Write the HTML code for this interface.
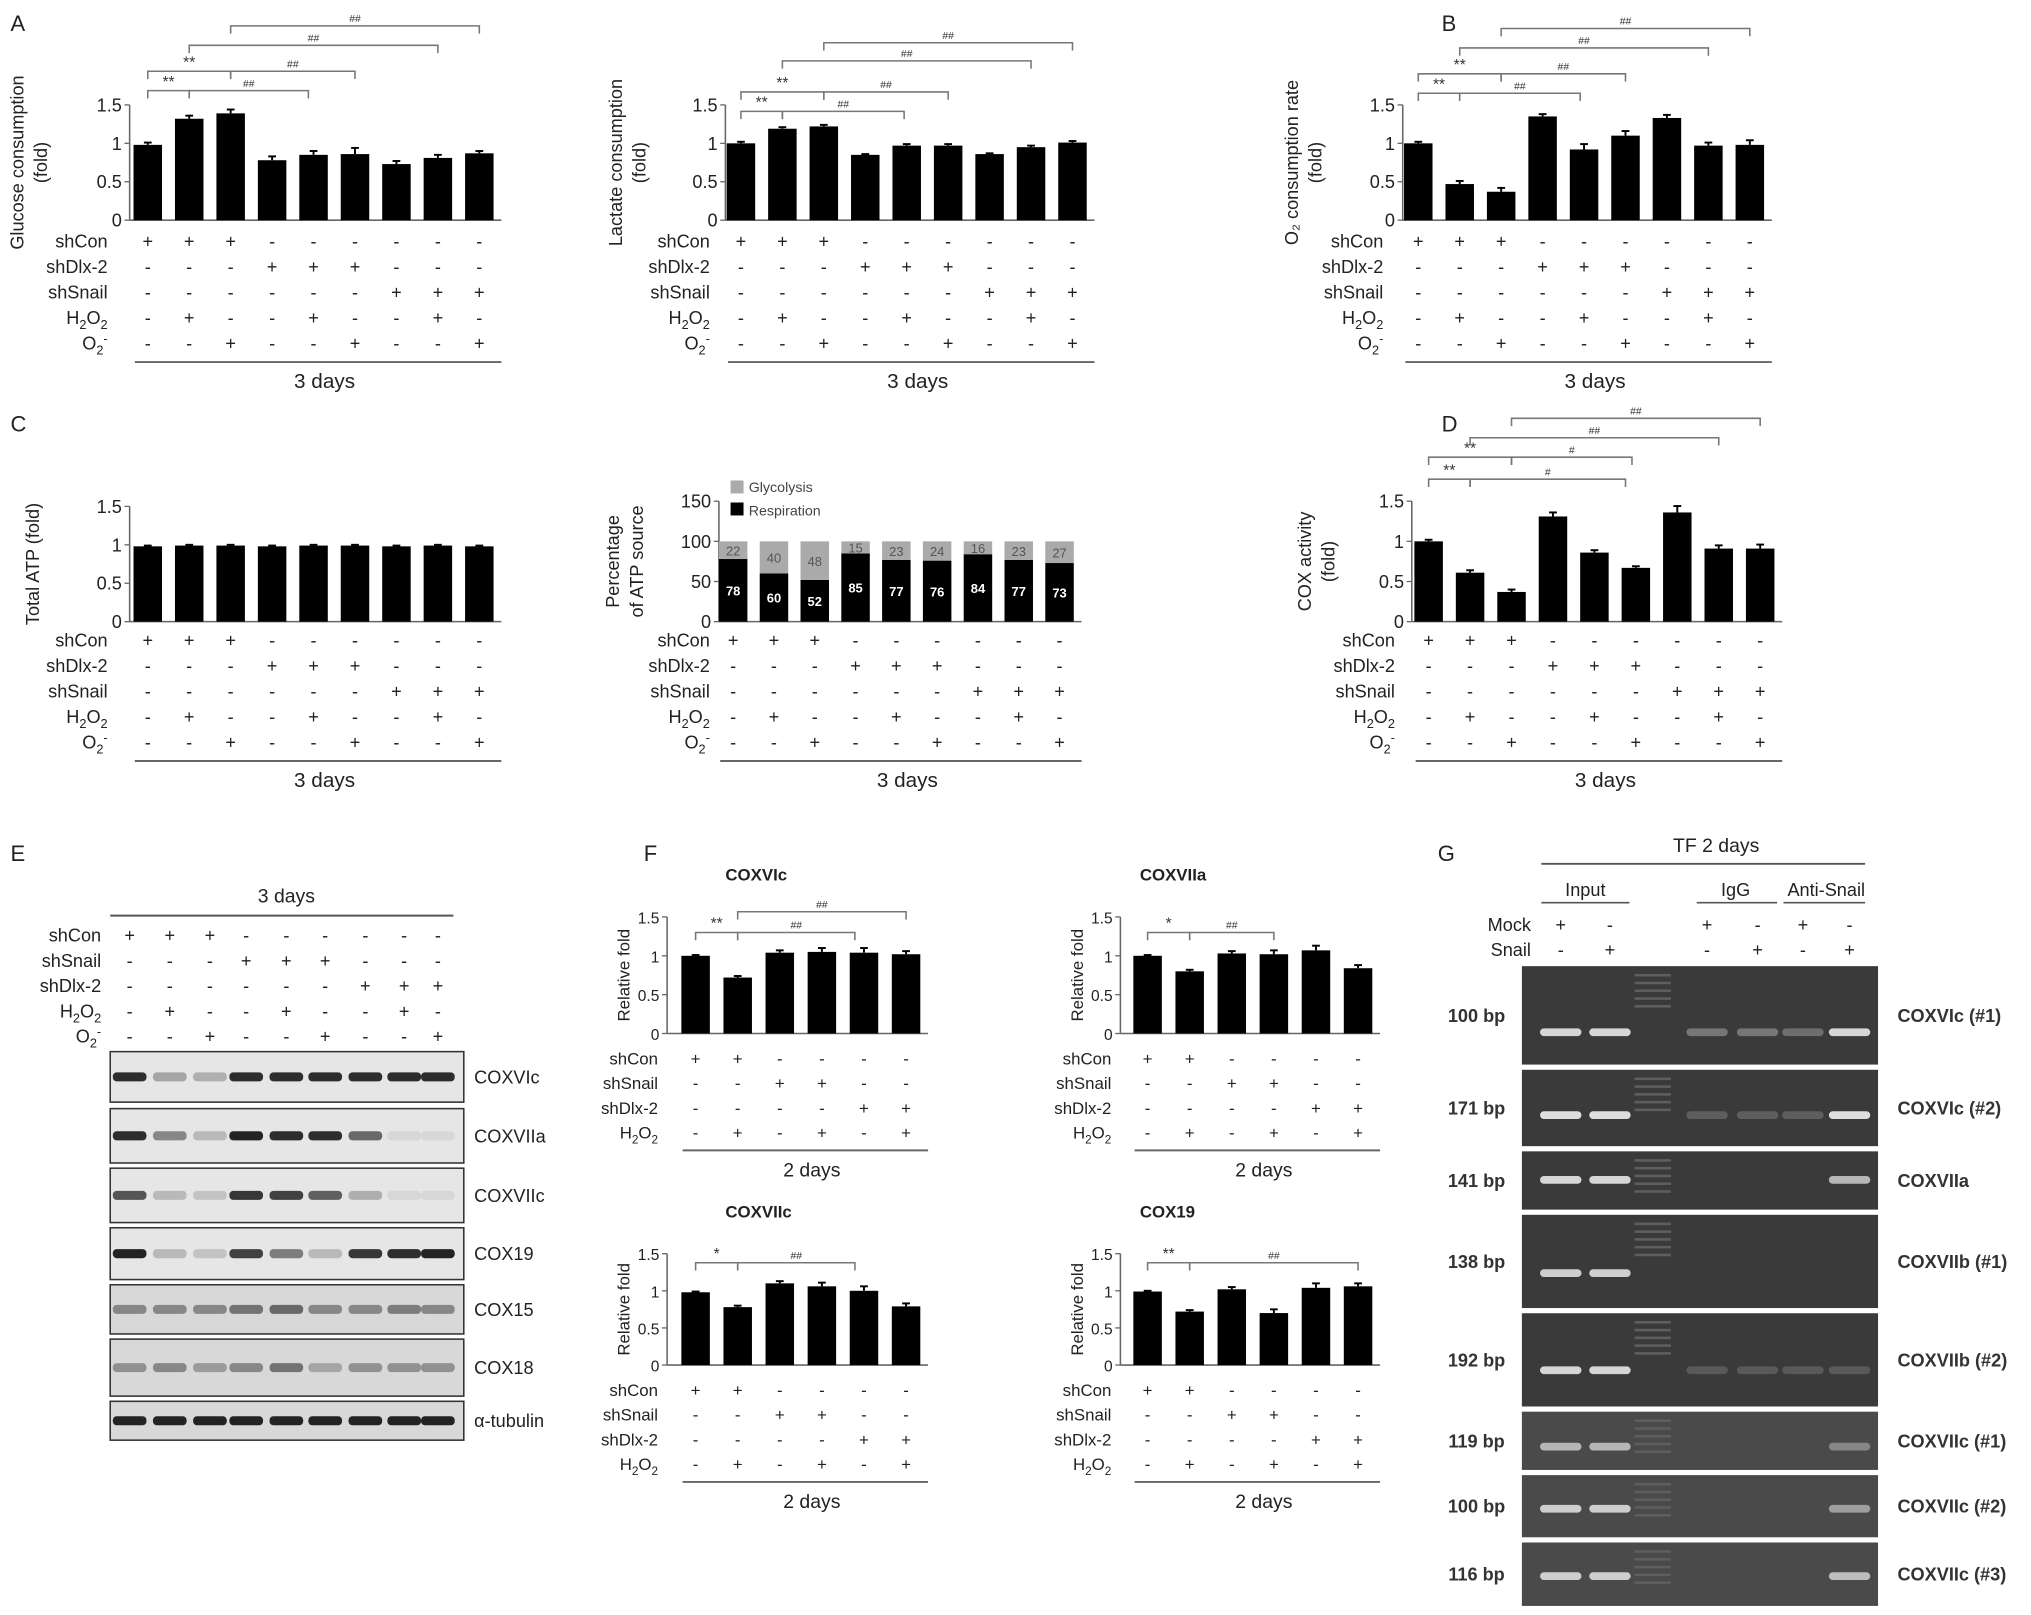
<!DOCTYPE html>
<html><head><meta charset="utf-8"><style>
html,body{margin:0;padding:0;background:#fff}
svg{display:block;font-family:"Liberation Sans",Arial,sans-serif}
</style></head><body>
<svg id="fig" xmlns="http://www.w3.org/2000/svg" width="2031" height="1615" viewBox="0 0 1568 1247">
<g id="root"></g>
</svg>
<script>
// ---------- data ----------
const glucoseValues=[0.98,1.32,1.39,0.78,0.85,0.86,0.73,0.81,0.87];
const glucoseErrors=[0.03,0.04,0.05,0.05,0.05,0.08,0.04,0.04,0.03];
const lactateValues=[1.0,1.19,1.22,0.85,0.97,0.97,0.86,0.95,1.01];
const lactateErrors=[0.02,0.02,0.02,0.01,0.02,0.02,0.01,0.02,0.02];
const o2Values=[1.0,0.47,0.37,1.35,0.92,1.10,1.33,0.97,0.98];
const o2Errors=[0.02,0.04,0.05,0.03,0.07,0.06,0.04,0.04,0.06];
const atpValues=[0.98,0.99,0.99,0.98,0.99,0.99,0.98,0.99,0.98];
const atpErrors=[0.01,0.01,0.01,0.01,0.01,0.01,0.01,0.01,0.01];
const respirationValues=[78,60,52,85,77,76,84,77,73];
const glycolysisValues=[22,40,48,15,23,24,16,23,27];
const coxValues=[1.0,0.61,0.37,1.31,0.86,0.67,1.36,0.91,0.91];
const coxErrors=[0.02,0.03,0.03,0.05,0.03,0.02,0.08,0.04,0.05];
const coxVIcValues=[1.0,0.72,1.04,1.05,1.04,1.02];
const coxVIIaValues=[1.0,0.80,1.03,1.02,1.07,0.84];
const coxVIIcValues=[0.98,0.78,1.10,1.06,1.0,0.79];
const cox19Values=[0.99,0.72,1.02,0.70,1.04,1.06];
const smallErrors=[0.01,0.02,0.03,0.05,0.06,0.04];
const ticks15=[0,0.5,1,1.5];
const tickLabels15=["0","0.5","1","1.5"];
const ticks150=[0,50,100,150];
const rows9=[["shCon","+++------"],["shDlx-2","---+++---"],["shSnail","------+++"],["H2O2","-+--+--+-"],["O2-","--+--+--+"]];
const rows6=[["shCon","++----"],["shSnail","--++--"],["shDlx-2","----++"],["H2O2","-+-+-+"]];

const NS="http://www.w3.org/2000/svg";
const root=document.getElementById('root');
function el(tag,attrs,parent,text){const e=document.createElementNS(NS,tag);for(const k in attrs)e.setAttribute(k,attrs[k]);if(text!==undefined)e.textContent=text;(parent||root).appendChild(e);return e;}
function label(name,x,y,size,g,anchor){
  const t=el('text',{x:x,y:y,'font-size':size,'text-anchor':anchor||'end',fill:'#222'},g);
  
  
  if(name==='H2O2'){t.innerHTML='H<tspan font-size="'+(size*0.7)+'" dy="4">2</tspan><tspan dy="-4">O</tspan><tspan font-size="'+(size*0.7)+'" dy="4">2</tspan>';}
  else if(name==='O2-'){t.innerHTML='O<tspan font-size="'+(size*0.7)+'" dy="4">2</tspan><tspan font-size="'+(size*0.7)+'" dy="-9">-</tspan>';}
  else t.textContent=name;
  return t;
}
function chart(c){
  const g=el('g',{});
  
  
  const n=c.values.length;
  const xOf=i=>c.bx+i*c.step;
  const yOf=v=>c.y0-(v/c.tmax)*c.h;
  const xEnd=xOf(n-1)+c.bw/2+6;
  const tfs=c.tfs||c.fs;
  el('line',{x1:c.ax,y1:c.y0,x2:xEnd,y2:c.y0,stroke:'#666','stroke-width':1.2},g);
  el('line',{x1:c.ax,y1:c.y0,x2:c.ax,y2:yOf(c.tmax),stroke:'#666','stroke-width':1.2},g);
  c.ticks.forEach((t,i)=>{const y=yOf(t);el('line',{x1:c.ax-4,y1:y,x2:c.ax,y2:y,stroke:'#666'},g);
    const tl=el('text',{x:c.ax-6,y:y+5,'font-size':tfs,'text-anchor':'end',fill:'#222'},g,c.tickLabels[i]);
    
    });
  c.values.forEach((v,i)=>{
    const x=xOf(i);
    if(c.stack){
      const yr=yOf(v), yg=yOf(v+c.stack[i]);
      const r=el('rect',{x:x-c.bw/2,y:yr,width:c.bw,height:c.y0-yr,fill:'#000'},g);
      
      
      const r2=el('rect',{x:x-c.bw/2,y:yg,width:c.bw,height:yr-yg,fill:'#aaa'},g);
      
      
      el('text',{x:x,y:(yr+c.y0)/2+4,'font-size':10,'font-weight':'bold','text-anchor':'middle',fill:'#fff'},g,String(v));
      el('text',{x:x,y:(yg+yr)/2+4,'font-size':10,'text-anchor':'middle',fill:'#555'},g,String(c.stack[i]));
    } else {
      const y=yOf(v);
      const r=el('rect',{x:x-c.bw/2,y:y,width:c.bw,height:c.y0-y,fill:'#000'},g);
      
      
      if(c.err){const ye=yOf(v+c.err[i]);el('line',{x1:x,y1:y,x2:x,y2:ye,stroke:'#000','stroke-width':1.5},g);el('line',{x1:x-3,y1:ye,x2:x+3,y2:ye,stroke:'#000','stroke-width':1.5},g);}
    }
  });
  c.rows.forEach((r,ri)=>{
    const y=c.ry+ri*c.rstep;
    label(r[0],c.lx,y+5,c.fs,g);
    for(let i=0;i<n;i++){el('text',{x:xOf(i),y:y+5,'font-size':c.fs,'text-anchor':'middle',fill:'#222'},g,r[1][i]==='+'?'+':'-');}
  });
  const ly=c.ry+(c.rows.length-1)*c.rstep+c.rstep*0.75;
  el('line',{x1:xOf(0)-10,y1:ly,x2:xEnd,y2:ly,stroke:'#666','stroke-width':1.5},g);
  const dt=el('text',{x:(xOf(0)+xEnd)/2,y:ly+20,'font-size':c.fs+2,'text-anchor':'middle',fill:'#222'},g,c.days);
  
  
  const ym=(c.y0+yOf(c.tmax))/2;
  c.title.forEach((t,k)=>{const tt=el('text',{x:c.tx+k*c.fs*1.3,y:ym,'font-size':c.fs,'text-anchor':'middle',fill:'#222',transform:'rotate(-90 '+(c.tx+k*c.fs*1.3)+' '+ym+')'},g,t);
    
    });
  (c.br||[]).forEach(b=>{
    const xa=xOf(b[0]),xb=b[4]!==undefined?b[4]:xOf(b[1]);
    el('path',{d:'M'+xa+' '+(b[2]+6)+'V'+b[2]+'H'+xb+'V'+(b[2]+6),fill:'none',stroke:'#777','stroke-width':1.2},g);
    el('text',{x:(xa+xb)/2,y:b[2]-3,'font-size':b[3].startsWith('#')?8:12,'text-anchor':'middle',fill:'#333'},g,b[3]);
  });
  return g;
}
function letter(t,x,y){const l=el('text',{x:x,y:y,'font-size':17,fill:'#222'},root,t);}
letter('A',8,24);letter('B',1113,24);letter('C',8,333);letter('D',1113,333);letter('E',8,665);letter('F',497,665);letter('G',1110,665);

const base9={tmax:1.5,ticks:ticks15,tickLabels:tickLabels15,step:32,bw:22,fs:14,rows:rows9,rstep:19.7,days:'3 days'};
chart(Object.assign({},base9,{name:'glucose-chart',ax:100,y0:170,h:89,bx:114,lx:83,values:glucoseValues,err:glucoseErrors,ry:186,tx:18,title:['Glucose consumption','(fold)'],
  br:[[0,1,70,'**'],[1,4,70,'##',238],[0,2,55,'**'],[2,5,55,'##'],[1,7,35,'##'],[2,8,20,'##']]}));
chart(Object.assign({},base9,{name:'lactate-chart',ax:560,y0:170,h:89,bx:572,lx:548,values:lactateValues,err:lactateErrors,ry:186,tx:480,title:['Lactate consumption','(fold)'],
  br:[[0,1,86,'**'],[1,4,86,'##',698],[0,2,71,'**'],[2,5,71,'##'],[1,7,47,'##'],[2,8,33,'##']]}));
chart(Object.assign({},base9,{name:'o2-consumption-chart',ax:1083,y0:170,h:89,bx:1095,lx:1068,values:o2Values,err:o2Errors,ry:186,tx:1002,title:['O\u2082 consumption rate','(fold)'],
  br:[[0,1,72,'**'],[1,4,72,'##',1220],[0,2,57,'**'],[2,5,57,'##'],[1,7,37,'##'],[2,8,22,'##']]}));
chart(Object.assign({},base9,{name:'total-atp-chart',ax:100,y0:480,h:89,bx:114,lx:83,values:atpValues,err:atpErrors,ry:494,tx:30,title:['Total ATP (fold)']}));
chart(Object.assign({},base9,{name:'atp-source-chart',ax:555,y0:480,h:93,tmax:150,ticks:ticks150,tickLabels:["0","50","100","150"],step:31.5,bx:566,lx:548,values:respirationValues,stack:glycolysisValues,ry:494,tx:478,title:['Percentage','of ATP source']}));
chart(Object.assign({},base9,{name:'cox-activity-chart',ax:1090,y0:480,h:93,bx:1103,lx:1077,values:coxValues,err:coxErrors,ry:494,tx:1012,title:['COX activity','(fold)'],
  br:[[0,1,370,'**'],[1,4,370,'#',1255],[0,2,353,'**'],[2,5,353,'#',1260],[1,7,338,'##'],[2,8,323,'##']]}));
// legend
{const lg=el('g',{});
el('rect',{x:564,y:371,width:10,height:10,fill:'#aaa'},lg);el('text',{x:578,y:380,'font-size':11,fill:'#444'},lg,'Glycolysis');
el('rect',{x:564,y:388,width:10,height:10,fill:'#000'},lg);el('text',{x:578,y:398,'font-size':11,fill:'#444'},lg,'Respiration');}

const base6={tmax:1.5,ticks:ticks15,tickLabels:tickLabels15,step:32.5,bw:22,fs:13,tfs:12,rows:rows6,rstep:19,days:'2 days',err:smallErrors};
chart(Object.assign({},base6,{name:'coxvic-chart',ax:515,y0:798,h:90,bx:537,lx:508,values:coxVIcValues,ry:817,tx:486,title:['Relative fold'],br:[[0,1,720,'**'],[1,4,720,'##',660],[1,5,704,'##']]}));
chart(Object.assign({},base6,{name:'coxviia-chart',ax:865,y0:798,h:90,bx:886,lx:858,values:coxVIIaValues,ry:817,tx:836,title:['Relative fold'],br:[[0,1,720,'*'],[1,3,720,'##']]}));
chart(Object.assign({},base6,{name:'coxviic-chart',ax:515,y0:1054,h:86,bx:537,lx:508,values:coxVIIcValues,ry:1073,tx:486,title:['Relative fold'],br:[[0,1,975,'*'],[1,4,975,'##',660]]}));
chart(Object.assign({},base6,{name:'cox19-chart',ax:865,y0:1054,h:86,bx:886,lx:858,values:cox19Values,ry:1073,tx:836,title:['Relative fold'],br:[[0,1,975,'**'],[1,5,975,'##']]}));
[['COXVIc',560,680],['COXVIIa',880,680],['COXVIIc',560,940],['COX19',880,940]].forEach(t=>{const x=el('text',{x:t[1],y:t[2],'font-size':13,'font-weight':'bold',fill:'#222'},root,t[0]);});

// ---------- E: western blot ----------
const blotNames=['COXVIc','COXVIIa','COXVIIc','COX19','COX15','COX18','\u03b1-tubulin'];
const blotIntensity=[[0.9,0.3,0.25,0.9,0.9,0.9,0.9,0.9,0.9],[0.9,0.45,0.2,0.95,0.9,0.9,0.6,0.05,0.05],[0.7,0.2,0.15,0.85,0.8,0.65,0.25,0.05,0.05],[0.95,0.2,0.15,0.8,0.5,0.2,0.85,0.9,0.95],[0.45,0.45,0.45,0.55,0.6,0.45,0.45,0.5,0.45],[0.4,0.45,0.35,0.45,0.55,0.3,0.4,0.4,0.4],[0.95,0.95,0.95,0.95,0.95,0.95,0.95,0.95,0.95]];
const blotBoxes=[[812,851],[856,898],[902,944],[948,988],[992,1030],[1034,1078],[1082,1112]];
const rowsE=[["shCon","+++------"],["shSnail","---+++---"],["shDlx-2","------+++"],["H2O2","-+--+--+-"],["O2-","--+--+--+"]];
{const g=el('g',{});
const lx=[100,131,162,190,221,251,282,312,338];
el('text',{x:221,y:697,'font-size':15,'text-anchor':'middle',fill:'#222'},g,'3 days');
el('line',{x1:85,y1:707,x2:350,y2:707,stroke:'#555','stroke-width':1.5},g);
rowsE.forEach((r,ri)=>{const y=722+ri*19.5;label(r[0],78,y+5,14,g);lx.forEach((x,i)=>el('text',{x:x,y:y+5,'font-size':14,'text-anchor':'middle',fill:'#222'},g,r[1][i]));});
blotBoxes.forEach((b,k)=>{
  const bg=k>=4?'#d8d8d8':'#e6e6e6';
  el('rect',{x:85,y:b[0],width:273,height:b[1]-b[0],fill:bg,stroke:'#333','stroke-width':1.2},g);
  const cy=(b[0]+b[1])/2;
  blotIntensity[k].forEach((v,i)=>{const c=Math.round(225-v*200);el('rect',{x:lx[i]-13,y:cy-3.5,width:26,height:7,rx:3,fill:'rgb('+c+','+c+','+c+')'},g);});
  const t=el('text',{x:366,y:cy+5,'font-size':14,fill:'#222'},g,blotNames[k]);
  
  
});}

// ---------- G: ChIP gel ----------
const gelBoxes=[[746,822],[826,885],[889,934],[938,1010],[1014,1086],[1090,1135],[1139,1187],[1191,1240]];
const gelBandY=[797,861,911,983,1058,1117,1165,1217];
const gelLeft=['100 bp','171 bp','141 bp','138 bp','192 bp','119 bp','100 bp','116 bp'];
const gelRight=['COXVIc (#1)','COXVIc (#2)','COXVIIa','COXVIIb (#1)','COXVIIb (#2)','COXVIIc (#1)','COXVIIc (#2)','COXVIIc (#3)'];
const gelBands=[[0.9,0.9,0.3,0.3,0.25,0.9],[0.95,0.95,0.15,0.15,0.15,0.95],[0.9,0.9,0,0,0,0.7],[0.85,0.85,0,0,0,0],[0.9,0.9,0.12,0.12,0.12,0.12],[0.7,0.7,0,0,0,0.4],[0.85,0.85,0,0,0,0.55],[0.85,0.85,0,0,0,0.75]];
{const g=el('g',{});
const lx=[1205,1243,1318,1357,1392,1428];
el('text',{x:1325,y:658,'font-size':15,'text-anchor':'middle',fill:'#222'},g,'TF 2 days');
el('line',{x1:1190,y1:667,x2:1440,y2:667,stroke:'#555','stroke-width':1.5},g);
[['Input',1224,1190,1258],['IgG',1340,1310,1372],['Anti-Snail',1410,1377,1440]].forEach(h=>{el('text',{x:h[1],y:692,'font-size':14,'text-anchor':'middle',fill:'#222'},g,h[0]);el('line',{x1:h[2],y1:697,x2:h[3],y2:697,stroke:'#555','stroke-width':1.3},g);});
[['Mock','+-+-+-',714],['Snail','-+-+-+',733]].forEach(r=>{el('text',{x:1182,y:r[2]+5,'font-size':14,'text-anchor':'end',fill:'#222'},g,r[0]);lx.forEach((x,i)=>el('text',{x:x,y:r[2]+5,'font-size':14,'text-anchor':'middle',fill:'#222'},g,r[1][i]));});
gelBoxes.forEach((b,k)=>{
  el('rect',{x:1175,y:b[0],width:275,height:b[1]-b[0],fill:k>=5?'#4a4a4a':'#3a3a3a'},g);
  for(let j=0;j<5;j++)el('rect',{x:1262,y:b[0]+6+j*6,width:28,height:2,fill:'#5e5e5e'},g);
  gelBands[k].forEach((v,i)=>{if(v>0){const c=Math.round(70+v*160);el('rect',{x:lx[i]-16,y:gelBandY[k]-3,width:32,height:6,rx:3,fill:'rgb('+c+','+c+','+c+')'},g);}});
  const cy=(b[0]+b[1])/2+5;
  el('text',{x:1140,y:cy,'font-size':14,'font-weight':'bold','text-anchor':'middle',fill:'#333'},g,gelLeft[k]);
  el('text',{x:1465,y:cy,'font-size':14,'font-weight':'bold',fill:'#333'},g,gelRight[k]);
});}
</script>
</body></html>
